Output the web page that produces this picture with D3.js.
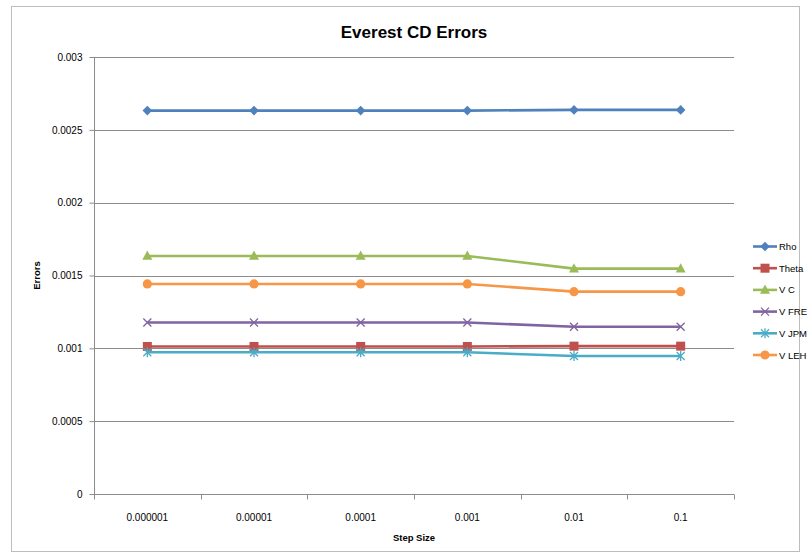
<!DOCTYPE html>
<html>
<head>
<meta charset="utf-8">
<script src="https://cdn.jsdelivr.net/npm/d3@7/dist/d3.min.js"></script>
<style>
  html, body { margin: 0; padding: 0; background: #fff; }
  svg { display: block; font-family: "Liberation Sans", Arial, sans-serif; }
</style>
</head>
<body>
<svg id="chart" width="809" height="554"></svg>
<script>
// Step sizes along the x axis
const stepSizes = ["0.000001", "0.00001", "0.0001", "0.001", "0.01", "0.1"];

// Error series, one value per step size
const rho   = [0.002632, 0.002632, 0.002632, 0.002632, 0.002637, 0.002637];
const theta = [0.001013, 0.001013, 0.001013, 0.001013, 0.001015, 0.001015];
const vC    = [0.001634, 0.001634, 0.001634, 0.001634, 0.001547, 0.001547];
const vFRE  = [0.001177, 0.001177, 0.001177, 0.001177, 0.001148, 0.001148];
const vJPM  = [0.000973, 0.000973, 0.000973, 0.000973, 0.000947, 0.000947];
const vLEH  = [0.001442, 0.001442, 0.001442, 0.001442, 0.001389, 0.001389];

const yTicks = [0, 0.0005, 0.001, 0.0015, 0.002, 0.0025, 0.003];

const series = [
  { name: "Rho",   values: rho,   color: "#4F81BD", marker: "diamond" },
  { name: "Theta", values: theta, color: "#C0504D", marker: "square" },
  { name: "V C",   values: vC,    color: "#9BBB59", marker: "triangle" },
  { name: "V FRE", values: vFRE,  color: "#8064A2", marker: "x" },
  { name: "V JPM", values: vJPM,  color: "#4BACC6", marker: "star" },
  { name: "V LEH", values: vLEH,  color: "#F79646", marker: "circle" }
];

const svg = d3.select("#chart");
const plot = { left: 94, top: 57, right: 734, bottom: 494 };

// Chart frame
svg.append("rect")
  .attr("x", 11.5).attr("y", 6.5)
  .attr("width", 788).attr("height", 545)
  .attr("fill", "#fff").attr("stroke", "#bdbdbd").attr("stroke-width", 1);

const x = d3.scaleBand().domain(stepSizes).range([plot.left, plot.right]).padding(0);
const y = d3.scaleLinear().domain([0, 0.003]).range([plot.bottom, plot.top]);
const cx = d => x(d) + x.bandwidth() / 2;

// Horizontal gridlines
svg.append("g")
  .selectAll("line")
  .data(yTicks.filter(t => t > 0))
  .join("line")
  .attr("x1", plot.left).attr("x2", plot.right)
  .attr("y1", d => Math.round(y(d)) + 0.5).attr("y2", d => Math.round(y(d)) + 0.5)
  .attr("stroke", "#8c8c8c").attr("stroke-width", 1);

// Y axis
const yAxis = svg.append("g")
  .attr("transform", `translate(${plot.left + 0.5},0)`)
  .call(d3.axisLeft(y).tickValues(yTicks).tickSize(5).tickPadding(7)
    .tickFormat(d => d === 0 ? "0" : String(+d.toFixed(4))));
yAxis.select(".domain").attr("stroke", "#8c8c8c").attr("d", `M0,${plot.top}V${plot.bottom}`);
yAxis.selectAll(".tick line").attr("stroke", "#8c8c8c");
yAxis.selectAll(".tick text").attr("fill", "#000").attr("font-size", 10)
  .attr("font-family", "Liberation Sans, Arial, sans-serif");

// X axis
const xAxis = svg.append("g")
  .attr("transform", `translate(0,${plot.bottom + 0.5})`)
  .call(d3.axisBottom(x).tickSize(0).tickPadding(19));
xAxis.select(".domain").attr("stroke", "#8c8c8c").attr("d", `M${plot.left},0H${plot.right}`);
xAxis.selectAll(".tick text").attr("fill", "#000").attr("font-size", 10)
  .attr("font-family", "Liberation Sans, Arial, sans-serif");
// Category boundary ticks
xAxis.append("g").selectAll("line")
  .data(stepSizes.map(d => x(d)).concat([plot.right]))
  .join("line")
  .attr("x1", d => Math.round(d) + 0.5).attr("x2", d => Math.round(d) + 0.5)
  .attr("y1", 0).attr("y2", 5)
  .attr("stroke", "#8c8c8c");

// Titles
svg.append("text")
  .attr("x", (plot.left + plot.right) / 2).attr("y", 38)
  .attr("text-anchor", "middle").attr("font-size", 17).attr("font-weight", "bold")
  .text("Everest CD Errors");
svg.append("text")
  .attr("x", (plot.left + plot.right) / 2).attr("y", 541)
  .attr("text-anchor", "middle").attr("font-size", 9.5).attr("font-weight", "bold")
  .text("Step Size");
svg.append("text")
  .attr("transform", `translate(40,${(plot.top + plot.bottom) / 2}) rotate(-90)`)
  .attr("text-anchor", "middle").attr("font-size", 9.5).attr("font-weight", "bold")
  .text("Errors");

// Marker shapes
function drawMarker(g, type, color) {
  if (type === "diamond") {
    g.append("path").attr("d", "M0,-4.8L4.8,0L0,4.8L-4.8,0Z").attr("fill", color);
  } else if (type === "square") {
    g.append("rect").attr("x", -4.5).attr("y", -4.5).attr("width", 9).attr("height", 9).attr("fill", color);
  } else if (type === "triangle") {
    g.append("path").attr("d", "M0,-5.5L5,3.8L-5,3.8Z").attr("fill", color);
  } else if (type === "circle") {
    g.append("circle").attr("r", 4.6).attr("fill", color);
  } else if (type === "x") {
    g.append("path").attr("d", "M-4,-4L4,4M-4,4L4,-4")
      .attr("stroke", color).attr("stroke-width", 1.3).attr("fill", "none");
  } else if (type === "star") {
    g.append("path").attr("d", "M-4,-4L4,4M-4,4L4,-4M0,-5V5")
      .attr("stroke", color).attr("stroke-width", 1.3).attr("fill", "none");
  }
}

const line = d3.line().x((d, i) => cx(stepSizes[i])).y(d => y(d));

// Series lines and markers
series.forEach(s => {
  const g = svg.append("g");
  g.append("path").datum(s.values)
    .attr("d", line)
    .attr("fill", "none").attr("stroke", s.color).attr("stroke-width", 2.6)
    .attr("stroke-linejoin", "round");
  s.values.forEach((v, i) => {
    const m = g.append("g").attr("transform", `translate(${cx(stepSizes[i])},${y(v)})`);
    drawMarker(m, s.marker, s.color);
  });
});

// Legend
const legend = svg.append("g");
series.forEach((s, i) => {
  const ly = 246.5 + i * 21.7;
  const g = legend.append("g").attr("transform", `translate(0,${ly})`);
  g.append("line").attr("x1", 753).attr("x2", 777).attr("y1", 0).attr("y2", 0)
    .attr("stroke", s.color).attr("stroke-width", 2.6);
  const m = g.append("g").attr("transform", "translate(765,0)");
  drawMarker(m, s.marker, s.color);
  g.append("text").attr("x", 779).attr("y", 3.5)
    .attr("font-size", 9.5).attr("fill", "#000").text(s.name);
});
</script>
</body>
</html>
